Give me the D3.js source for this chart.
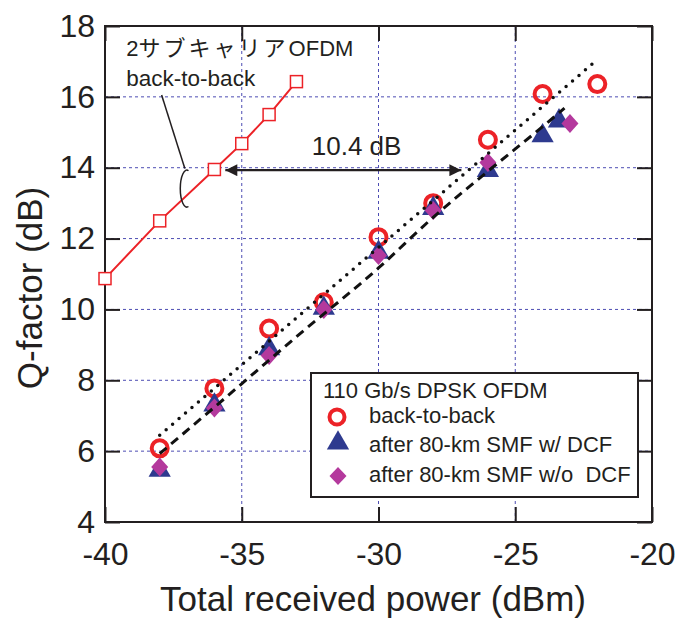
<!DOCTYPE html>
<html>
<head>
<meta charset="utf-8">
<script src="https://cdn.jsdelivr.net/npm/d3@7"></script>
<style>
  body { margin: 0; background: #fff; }
  text { font-family: "Liberation Sans", Arial, "Noto Sans CJK JP", sans-serif; fill: #231f20; }
</style>
</head>
<body>
<script>
// values
var xTicks = [-40, -35, -30, -25, -20];
var yTicks = [4, 6, 8, 10, 12, 14, 16, 18];
var xGrid = [-35, -30, -25];
var yGrid = [6, 8, 10, 12, 14, 16];

var twoSubX = [-40, -38, -36, -35, -34, -33];
var twoSubQ = [10.87, 12.5, 13.95, 14.68, 15.5, 16.43];

var b2bX = [-38, -36, -34, -32, -30, -28, -26, -24, -22];
var b2bQ = [6.08, 7.77, 9.46, 10.2, 12.04, 13.0, 14.79, 16.08, 16.36];

var dcfX = [-38, -36, -34, -32, -30, -28, -26, -24, -23.4];
var dcfQ = [5.46, 7.3, 8.89, 10.03, 11.61, 12.85, 13.92, 14.9, 15.32];

var noDcfX = [-38, -36, -34, -32, -30, -28, -26, -23];
var noDcfQ = [5.55, 7.22, 8.7, 10.0, 11.52, 12.79, 14.15, 15.25];

var dotFitX = [-38, -22.15];
var dotFitQ = [6.45, 16.95];
var dashFitX = [-38, -36, -33, -30, -28, -26, -24, -23.2];
var dashFitQ = [5.93, 7.24, 9.23, 11.17, 12.6, 13.9, 15.16, 15.68];

var legendTitle = '110 Gb/s DPSK OFDM';
var legendLabels = ['back-to-back', 'after 80-km SMF w/ DCF', 'after 80-km SMF w/o  DCF'];

var noteLines = ['back-to-back'];
var arrowX = [-35.6, -26.97];
var arrowQ = 13.93;
var arrowLabel = '10.4 dB';

var red = '#ec2227', blue = '#2e3a8f', magenta = '#b4399d', gridCol = '#4d4db3';

var width = 677, height = 618;
var margin = { top: 26, right: 25, bottom: 96, left: 105 };

var svg = d3.select('body').append('svg')
  .attr('width', width)
  .attr('height', height);

var x = d3.scaleLinear().domain([-40, -20]).range([margin.left, width - margin.right]);
var y = d3.scaleLinear().domain([4, 18]).range([height - margin.bottom, margin.top]);

function pts(xs, qs) {
  return xs.map(function (d, i) { return [d, qs[i]]; });
}

// grid
svg.append('g').selectAll('line').data(yGrid).enter().append('line')
  .attr('x1', x(-40)).attr('x2', x(-20))
  .attr('y1', function (d) { return y(d); }).attr('y2', function (d) { return y(d); })
  .attr('stroke', gridCol).attr('stroke-width', 1).attr('stroke-dasharray', '3,3');
svg.append('g').selectAll('line').data(xGrid).enter().append('line')
  .attr('y1', y(4)).attr('y2', y(18))
  .attr('x1', function (d) { return x(d); }).attr('x2', function (d) { return x(d); })
  .attr('stroke', gridCol).attr('stroke-width', 1).attr('stroke-dasharray', '3,3');

// axes, ticks pointing inward
var fmt = function (d) { return String(d); };
var gx = svg.append('g').attr('transform', 'translate(0,' + y(4) + ')')
  .call(d3.axisBottom(x).tickValues(xTicks).tickSizeInner(-15).tickSizeOuter(0).tickPadding(20).tickFormat(fmt));
var gy = svg.append('g').attr('transform', 'translate(' + x(-40) + ',0)')
  .call(d3.axisLeft(y).tickValues(yTicks).tickSizeInner(-15).tickSizeOuter(0).tickPadding(10).tickFormat(fmt));
var gt = svg.append('g').attr('transform', 'translate(0,' + y(18) + ')')
  .call(d3.axisTop(x).tickValues(xTicks).tickSizeInner(-15).tickSizeOuter(0).tickFormat(''));
var gr = svg.append('g').attr('transform', 'translate(' + x(-20) + ',0)')
  .call(d3.axisRight(y).tickValues(yTicks).tickSizeInner(-15).tickSizeOuter(0).tickFormat(''));
[gx, gy, gt, gr].forEach(function (g) {
  g.select('.domain').remove();
  g.selectAll('line').attr('stroke', '#231f20').attr('stroke-width', 2);
  g.selectAll('text').style('font-size', '32px').attr('fill', '#231f20')
    .style('font-family', '"Liberation Sans", Arial, sans-serif');
});

svg.append('rect')
  .attr('x', x(-40)).attr('y', y(18))
  .attr('width', x(-20) - x(-40)).attr('height', y(4) - y(18))
  .attr('fill', 'none').attr('stroke', '#231f20').attr('stroke-width', 2);

// axis titles
svg.append('text')
  .attr('x', 373).attr('y', 611)
  .attr('text-anchor', 'middle')
  .style('font-size', '35px')
  .text('Total received power (dBm)');
svg.append('text')
  .attr('transform', 'translate(42,' + 288 + ') rotate(-90)')
  .attr('text-anchor', 'middle')
  .style('font-size', '35px')
  .text('Q-factor (dB)');

var line = d3.line()
  .x(function (d) { return x(d[0]); })
  .y(function (d) { return y(d[1]); });

// 2-subcarrier back-to-back
svg.append('path').datum(pts(twoSubX, twoSubQ))
  .attr('d', line).attr('fill', 'none').attr('stroke', red).attr('stroke-width', 2);
svg.append('g').selectAll('rect').data(pts(twoSubX, twoSubQ)).enter().append('rect')
  .attr('x', function (d) { return x(d[0]) - 6; })
  .attr('y', function (d) { return y(d[1]) - 6; })
  .attr('width', 12).attr('height', 12)
  .attr('fill', '#fff').attr('stroke', red).attr('stroke-width', 1.5);

// marker shapes
var triPath = d3.symbol().type(d3.symbolTriangle).size(215);
function diamondPath(w, h) {
  return 'M0,' + (-h) + 'L' + w + ',0L0,' + h + 'L' + (-w) + ',0Z';
}

svg.append('g').selectAll('circle').data(pts(b2bX, b2bQ)).enter().append('circle')
  .attr('cx', function (d) { return x(d[0]); })
  .attr('cy', function (d) { return y(d[1]); })
  .attr('r', 8).attr('fill', 'none').attr('stroke', red).attr('stroke-width', 4);

svg.append('g').selectAll('path').data(pts(dcfX, dcfQ)).enter().append('path')
  .attr('d', triPath)
  .attr('transform', function (d) { return 'translate(' + x(d[0]) + ',' + y(d[1]) + ')'; })
  .attr('fill', blue);

svg.append('g').selectAll('path').data(pts(noDcfX, noDcfQ)).enter().append('path')
  .attr('d', diamondPath(8.5, 9.5))
  .attr('transform', function (d) { return 'translate(' + x(d[0]) + ',' + y(d[1]) + ')'; })
  .attr('fill', magenta);

// fit lines
svg.append('path').datum(pts(dotFitX, dotFitQ))
  .attr('d', line).attr('fill', 'none').attr('stroke', '#111')
  .attr('stroke-width', 3.5).attr('stroke-linecap', 'round').attr('stroke-dasharray', '0,8.5');
svg.append('path').datum(pts(dashFitX, dashFitQ))
  .attr('d', line.curve(d3.curveMonotoneX)).attr('fill', 'none').attr('stroke', '#111')
  .attr('stroke-width', 3).attr('stroke-dasharray', '9,6');
line.curve(d3.curveLinear);

// annotation: 2サブキャリアOFDM
var note = svg.append('text').attr('x', x(-39.22)).attr('y', y(17.15)).style('font-size', '22px');
note.append('tspan').text('2');
note.append('tspan').style('font-family', '"Noto Sans CJK JP", sans-serif').style('letter-spacing', '3px').text('サブキャリア');
note.append('tspan').text('OFDM');
svg.append('text').attr('x', x(-39.22)).attr('y', y(16.31)).style('font-size', '22.5px').text(noteLines[0]);

svg.append('line')
  .attr('x1', x(-37.93)).attr('y1', y(16.05))
  .attr('x2', x(-37.08)).attr('y2', y(13.98))
  .attr('stroke', '#231f20').attr('stroke-width', 1.5);

var ecx = x(-37.01), ecy = y(13.41), erx = 6.5, ery = 18.5;
var a0 = -75 * Math.PI / 180, a1 = 75 * Math.PI / 180;
svg.append('path')
  .attr('d', 'M' + (ecx + erx * Math.cos(a0)) + ',' + (ecy + ery * Math.sin(a0)) +
    'A' + erx + ',' + ery + ' 0 1 0 ' + (ecx + erx * Math.cos(a1)) + ',' + (ecy + ery * Math.sin(a1)))
  .attr('fill', 'none').attr('stroke', '#231f20').attr('stroke-width', 1.5);

// 10.4 dB arrow
svg.append('defs').append('marker')
  .attr('id', 'head').attr('viewBox', '0 0 10 10')
  .attr('refX', 10).attr('refY', 5)
  .attr('markerWidth', 13).attr('markerHeight', 12)
  .attr('markerUnits', 'userSpaceOnUse')
  .attr('orient', 'auto-start-reverse')
  .append('path').attr('d', 'M0,0L10,5L0,10Z').attr('fill', '#231f20');
svg.append('line')
  .attr('x1', x(arrowX[0])).attr('x2', x(arrowX[1]))
  .attr('y1', y(arrowQ)).attr('y2', y(arrowQ))
  .attr('stroke', '#231f20').attr('stroke-width', 2.2)
  .attr('marker-start', 'url(#head)').attr('marker-end', 'url(#head)');
svg.append('text').attr('x', x(-32.44)).attr('y', y(14.36))
  .style('font-size', '26px').text(arrowLabel);

// legend
var lg = svg.append('g').attr('transform', 'translate(311,373)');
lg.append('rect').attr('width', 327).attr('height', 124)
  .attr('fill', '#fff').attr('stroke', '#231f20').attr('stroke-width', 2);
lg.append('text').attr('x', 12).attr('y', 25).style('font-size', '22px').text(legendTitle);
var rowY = [44, 70, 103];
var baseY = [50, 78.7, 108.7];
lg.append('circle').attr('cx', 26).attr('cy', rowY[0]).attr('r', 7.5)
  .attr('fill', 'none').attr('stroke', red).attr('stroke-width', 4);
lg.append('path').attr('d', triPath).attr('transform', 'translate(27,' + rowY[1] + ')').attr('fill', blue);
lg.append('path').attr('d', diamondPath(8.5, 9)).attr('transform', 'translate(27,' + rowY[2] + ')').attr('fill', magenta);
lg.selectAll('.lab').data(legendLabels).enter().append('text')
  .attr('class', 'lab')
  .attr('x', 58)
  .attr('y', function (d, i) { return baseY[i]; })
  .style('font-size', '22px')
  .style('white-space', 'pre')
  .text(function (d) { return d; });
</script>
</body>
</html>
